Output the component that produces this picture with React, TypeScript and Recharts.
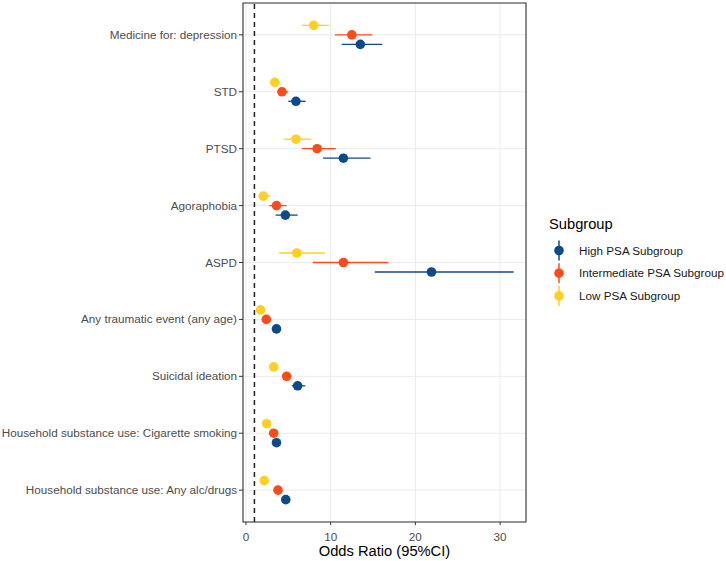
import React from 'react';
import {
  ScatterChart,
  Scatter,
  XAxis,
  YAxis,
  CartesianGrid,
  ErrorBar,
  ReferenceLine,
  ReferenceArea,
} from 'recharts';

const CATEGORIES = [
  'Medicine for: depression',
  'STD',
  'PTSD',
  'Agoraphobia',
  'ASPD',
  'Any traumatic event (any age)',
  'Suicidal ideation',
  'Household substance use: Cigarette smoking',
  'Household substance use: Any alc/drugs',
];

const HIGH_OR = [13.5, 5.9, 11.5, 4.65, 21.9, 3.6, 6.1, 3.6, 4.7];
const HIGH_LO = [11.3, 5.0, 9.1, 3.5, 15.2, 3.3, 5.4, 3.3, 4.4];
const HIGH_HI = [16.1, 7.05, 14.7, 6.1, 31.6, 3.9, 7.0, 3.9, 5.0];

const MID_OR = [12.5, 4.25, 8.4, 3.6, 11.5, 2.4, 4.8, 3.27, 3.78];
const MID_LO = [10.5, 3.7, 6.6, 2.75, 7.9, 2.2, 4.3, 3.0, 3.5];
const MID_HI = [14.9, 5.0, 10.6, 4.8, 16.8, 2.6, 5.3, 3.5, 4.1];

const LOW_OR = [8.0, 3.4, 5.9, 2.05, 6.0, 1.73, 3.27, 2.44, 2.16];
const LOW_LO = [6.6, 2.8, 4.5, 1.5, 3.9, 1.55, 3.0, 2.2, 1.95];
const LOW_HI = [9.8, 4.0, 7.7, 2.9, 9.3, 1.9, 3.55, 2.7, 2.4];

const X_TICKS = [0, 10, 20, 30];
const X_DOMAIN = [-0.35, 33.06];
const Y_DOMAIN = [-0.56, 8.56];

const SERIES = [
  { name: 'High PSA Subgroup', color: '#0D4A8C', or: HIGH_OR, lo: HIGH_LO, hi: HIGH_HI, dodge: 0.167 },
  { name: 'Intermediate PSA Subgroup', color: '#FF4A1A', or: MID_OR, lo: MID_LO, hi: MID_HI, dodge: 0 },
  { name: 'Low PSA Subgroup', color: '#FFCF24', or: LOW_OR, lo: LOW_LO, hi: LOW_HI, dodge: -0.167 },
];

const FONT = '"Liberation Sans", Arial, sans-serif';

const buildData = (s: typeof SERIES[number]) =>
  s.or.map((v, i) => ({
    label: CATEGORIES[i],
    x: v,
    y: i + s.dodge,
    err: [v - s.lo[i], s.hi[i] - v],
  }));

// plain svg text so long labels don't wrap
const YTick = (p: any) => (
  <text x={p.x} y={p.y} dy={4} textAnchor="end" fontSize={11.7} fill="#4D4D4D" fontFamily={FONT}>
    {CATEGORIES[p.payload.value]}
  </text>
);

const XTick = (p: any) => (
  <text x={p.x} y={p.y} dy={9} textAnchor="middle" fontSize={11.7} fill="#4D4D4D" fontFamily={FONT}>
    {p.payload.value}
  </text>
);

const LegendBox = () => (
  <svg width={186} height={110} style={{ fontFamily: FONT, display: 'block' }}>
    <text x={9} y={19} fontSize={14.7} fill="#000">Subgroup</text>
    {SERIES.map((s, i) => {
      const cy = 40.5 + i * 22.7;
      return (
        <g key={s.name}>
          <line x1={19} x2={19} y1={cy - 10} y2={cy + 10} stroke={s.color} strokeWidth={1.5} />
          <circle cx={19} cy={cy} r={4.8} fill={s.color} />
          <text x={39} y={cy + 4} fontSize={11.7} fill="#1a1a1a">{s.name}</text>
        </g>
      );
    })}
  </svg>
);

export default function App() {
  return (
    <div style={{ position: 'absolute', left: 0, top: 0, width: 726, height: 561, background: '#fff' }}>
      <ScatterChart
        width={726}
        height={561}
        margin={{ top: 3, right: 200, bottom: 0, left: 0 }}
        style={{ fontFamily: FONT }}
      >
        <CartesianGrid stroke="#EBEBEB" strokeWidth={1} />
        <XAxis
          type="number"
          dataKey="x"
          domain={X_DOMAIN}
          allowDataOverflow
          ticks={X_TICKS}
          height={39}
          tickSize={3}
          tickMargin={7}
          axisLine={false}
          tickLine={{ stroke: '#333333' }}
          tick={<XTick />}
          label={{ value: 'Odds Ratio (95%CI)', position: 'insideBottom', offset: 5, fill: '#000', fontSize: 14.7 }}
        />
        <YAxis
          type="number"
          dataKey="y"
          domain={Y_DOMAIN}
          allowDataOverflow
          reversed
          ticks={CATEGORIES.map((_, i) => i)}
          width={243}
          tickSize={4}
          tickMargin={2}
          axisLine={false}
          tickLine={{ stroke: '#333333' }}
          tick={<YTick />}
          interval={0}
        />
        <ReferenceArea
          x1={X_DOMAIN[0]}
          x2={X_DOMAIN[1]}
          y1={Y_DOMAIN[0]}
          y2={Y_DOMAIN[1]}
          fill="none"
          fillOpacity={0}
          stroke="#333333"
          strokeWidth={1.1}
          ifOverflow="visible"
        />
        <ReferenceLine x={1} stroke="#222" strokeWidth={1.5} strokeDasharray="5 4" />
        {SERIES.slice().reverse().map((s) => (
          <Scatter
            key={s.name}
            name={s.name}
            data={buildData(s)}
            fill={s.color}
            isAnimationActive={false}
            shape={(p: any) => <circle cx={p.cx} cy={p.cy} r={4.8} fill={s.color} />}
          >
            <ErrorBar dataKey="err" direction="x" width={0} stroke={s.color} strokeWidth={1.3} isAnimationActive={false} />
          </Scatter>
        ))}
      </ScatterChart>
      <div style={{ position: 'absolute', left: 540, top: 210 }}>
        <LegendBox />
      </div>
    </div>
  );
}
